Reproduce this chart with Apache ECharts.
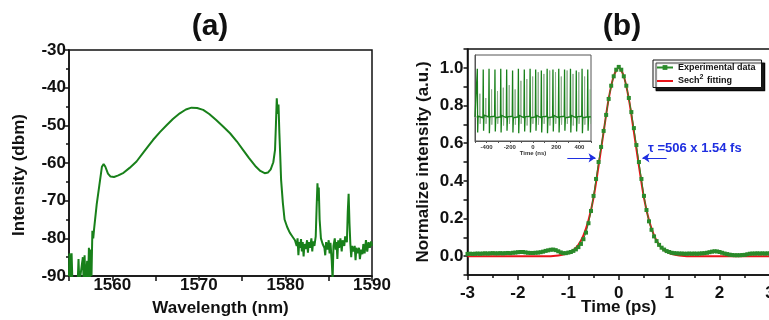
<!DOCTYPE html>
<html><head><meta charset="utf-8">
<script src="https://cdn.jsdelivr.net/npm/echarts@6/dist/echarts.min.js"></script>
<style>html,body{margin:0;padding:0;background:#fff}#c{width:769px;height:320px}</style>
</head><body><div id="c"></div>
<script>
const FONT = '"Liberation Sans", Arial, sans-serif';

// (a) optical spectrum
const specWl = [1555.0,1555.05,1555.15,1555.3,1555.4,1555.6,1556.0,1556.1,1556.2,1556.4,1556.6,1556.7,1556.8,1556.9,1557.1,1557.2,1557.3,1557.4,1557.5,1557.6,1557.7,1557.8,1557.9,1558.2,1558.5,1558.8,1559.0,1559.2,1559.5,1559.8,1560.2,1560.7,1561.3,1562.0,1562.8,1563.6,1564.2,1564.7,1565.5,1566.3,1567.0,1567.8,1568.5,1569.15,1569.8,1570.5,1571.2,1572.0,1572.8,1573.6,1574.4,1575.1,1575.8,1576.6,1577.1,1577.6,1578.0,1578.3,1578.6,1578.8,1578.9,1579.0,1579.1,1579.2,1579.3,1579.4,1579.5,1579.7,1579.9,1580.2,1580.5,1580.8,1581.1,1581.3,1581.4,1581.5,1581.6,1581.7,1581.8,1581.9,1582.0,1582.1,1582.2,1582.35,1582.5,1582.6,1582.7,1582.85,1583.0,1583.1,1583.2,1583.35,1583.5,1583.6,1583.7,1583.8,1583.85,1583.95,1584.1,1584.3,1584.5,1584.6,1584.7,1584.85,1585.0,1585.1,1585.2,1585.35,1585.45,1585.55,1585.7,1585.8,1585.9,1586.0,1586.1,1586.2,1586.35,1586.5,1586.6,1586.8,1586.9,1587.1,1587.2,1587.3,1587.4,1587.5,1587.6,1587.7,1587.85,1588.0,1588.1,1588.2,1588.35,1588.5,1588.6,1588.75,1588.9,1589.0,1589.15,1589.3,1589.45,1589.6,1589.75,1589.9,1590.0];
const specDbm = [-90,-84,-92,-84,-92,-92,-92,-85.5,-92,-92,-85,-92,-84.5,-92,-86,-92,-82.5,-92,-83,-90,-78,-80,-77.5,-71,-66,-61,-60.3,-61,-62.8,-63.6,-63.7,-63.3,-62.6,-61.3,-59.6,-57.2,-55.4,-53.9,-51.8,-49.9,-48.3,-46.8,-45.8,-45.3,-45.4,-45.9,-47.0,-48.6,-50.3,-52.1,-54.3,-56.5,-58.7,-61.0,-62.1,-62.7,-62.5,-61.7,-59.8,-56.5,-50,-42.8,-47,-44.5,-52,-58,-64.5,-70.5,-75,-77,-78.5,-79.5,-80.5,-82,-80,-84.5,-81,-82.5,-80.2,-83.5,-81,-84.8,-81.5,-82.8,-80.5,-83.8,-81,-82.5,-80,-83.5,-80.8,-82,-79.5,-72,-65.4,-70,-66.5,-75,-80,-81.5,-82.5,-84.5,-81,-83,-80.5,-84,-81.2,-86,-91,-82,-80,-83,-81,-85.5,-80.5,-82.5,-80,-83.5,-80.5,-82,-79.5,-81,-73,-68.2,-76,-81.5,-85,-82,-83.5,-82,-85.8,-82.5,-84,-82.5,-85.5,-83,-84.2,-81.5,-84,-80.5,-83.5,-81,-82.5,-80.8,-82];

// (b) autocorrelation trace, sampled every 0.05 ps from -3 ps
const expStart = -3, expStep = 0.05;
const expVals = [0.012,0.013,0.012,0.013,0.014,0.013,0.014,0.015,0.014,0.015,0.016,0.015,0.015,0.016,0.015,0.016,0.017,0.016,0.018,0.019,0.021,0.022,0.022,0.020,0.018,0.017,0.017,0.018,0.019,0.021,0.024,0.028,0.031,0.034,0.035,0.032,0.026,0.020,0.016,0.016,0.019,0.022,0.028,0.036,0.048,0.065,0.09,0.125,0.175,0.24,0.32,0.41,0.50,0.58,0.665,0.75,0.835,0.905,0.955,0.99,1.005,0.99,0.955,0.905,0.84,0.765,0.68,0.59,0.50,0.41,0.32,0.245,0.185,0.14,0.105,0.08,0.06,0.045,0.035,0.027,0.022,0.018,0.016,0.015,0.014,0.014,0.013,0.013,0.014,0.013,0.014,0.013,0.014,0.015,0.016,0.018,0.021,0.024,0.026,0.025,0.022,0.018,0.014,0.011,0.008,0.006,0.005,0.005,0.005,0.006,0.007,0.010,0.013,0.014,0.014,0.015,0.014,0.015,0.014,0.015,0.014];
const fitT = [-3,-2.9,-2.8,-2.7,-2.6,-2.5,-2.4,-2.3,-2.2,-2.1,-2,-1.9,-1.8,-1.7,-1.6,-1.5,-1.4,-1.3,-1.2,-1.1,-1,-0.9,-0.8,-0.7,-0.6,-0.5,-0.4,-0.3,-0.2,-0.1,0,0.1,0.2,0.3,0.4,0.5,0.6,0.7,0.8,0.9,1,1.1,1.2,1.3,1.4,1.5,1.6,1.7,1.8,1.9,2,2.1,2.2,2.3,2.4,2.5,2.6,2.7,2.8,2.9,3];
const fitVals = [0,0,0,0,0,0,0,0,0,0,0,0,0,0,0,0,0,0.001,0.004,0.009,0.017,0.032,0.06,0.11,0.19,0.31,0.48,0.66,0.835,0.955,1.0,0.955,0.835,0.66,0.48,0.31,0.19,0.11,0.06,0.032,0.017,0.009,0.004,0.001,0,0,0,0,0,0,0,0,0,0,0,0,0,0,0,0,0];

// inset pulse train (time in ns, relative amplitude)
const insetMain = [[-500,0.28],[-483,0.28],[-480,0.84],[-477,0.10],[-473,0.29],[-432,0.27],[-429,0.83],[-426,0.12],[-422,0.30],[-382,0.28],[-379,0.84],[-376,0.09],[-372,0.28],[-331,0.29],[-328,0.83],[-325,0.11],[-321,0.27],[-281,0.28],[-278,0.84],[-275,0.10],[-271,0.30],[-230,0.27],[-227,0.83],[-224,0.12],[-220,0.28],[-179,0.29],[-176,0.82],[-173,0.10],[-169,0.27],[-129,0.28],[-126,0.84],[-123,0.09],[-119,0.30],[-78,0.27],[-75,0.83],[-72,0.11],[-68,0.28],[-28,0.29],[-25,0.84],[-22,0.10],[-18,0.27],[20,0.28],[23,0.83],[26,0.12],[30,0.30],[69,0.27],[72,0.82],[75,0.10],[79,0.28],[119,0.29],[122,0.84],[125,0.09],[129,0.27],[169,0.28],[172,0.83],[175,0.11],[179,0.30],[219,0.27],[222,0.84],[225,0.10],[229,0.28],[269,0.29],[272,0.83],[275,0.12],[279,0.27],[320,0.28],[323,0.84],[326,0.10],[330,0.30],[370,0.27],[373,0.82],[376,0.11],[380,0.28],[420,0.29],[423,0.84],[426,0.09],[430,0.27],[469,0.28],[472,0.83],[475,0.12],[479,0.28],[500,0.28]];
const insetGhost = [[-500,0.28],[-460,0.28],[-458,0.55],[-456,0.2],[-453,0.28],[-409,0.28],[-407,0.5],[-405,0.2],[-402,0.28],[-359,0.28],[-357,0.6],[-355,0.19],[-352,0.28],[-308,0.28],[-306,0.58],[-304,0.2],[-301,0.28],[-258,0.28],[-256,0.62],[-254,0.18],[-251,0.28],[-207,0.28],[-205,0.65],[-203,0.2],[-200,0.28],[-156,0.28],[-154,0.6],[-152,0.19],[-149,0.28],[-106,0.28],[-104,0.7],[-102,0.2],[-99,0.28],[-55,0.28],[-53,0.72],[-51,0.18],[-48,0.28],[-5,0.28],[-3,0.75],[-1,0.2],[2,0.28],[43,0.28],[45,0.8],[47,0.19],[50,0.28],[92,0.28],[94,0.78],[96,0.2],[99,0.28],[142,0.28],[144,0.82],[146,0.18],[149,0.28],[192,0.28],[194,0.8],[196,0.2],[199,0.28],[242,0.28],[244,0.75],[246,0.19],[249,0.28],[292,0.28],[294,0.82],[296,0.2],[299,0.28],[343,0.28],[345,0.78],[347,0.18],[350,0.28],[393,0.28],[395,0.8],[397,0.2],[400,0.28],[443,0.28],[445,0.75],[447,0.19],[450,0.28],[492,0.28],[494,0.6],[496,0.2],[499,0.28]];

const expData = expVals.map((v, i) => [+(expStart + i * expStep).toFixed(2), v]);
const fitData = fitT.map((t, i) => [t, fitVals[i]]);
const specData = specWl.map((w, i) => [w, specDbm[i]]);

const GREEN = '#18801a';
const lbl = (size, extra) => Object.assign({color: '#111', fontFamily: FONT, fontWeight: 'bold', fontSize: size}, extra || {});

const chart = echarts.init(document.getElementById('c'), null, {renderer: 'canvas'});
chart.setOption({
  animation: false,
  backgroundColor: '#fff',
  grid: [
    {left: 69, top: 50, width: 303, height: 226, show: true, borderColor: '#111', borderWidth: 1.5, backgroundColor: 'transparent', containLabel: false, outerBoundsMode: 'none'},
    {left: 467.5, top: 49, width: 302.5, height: 226, show: true, borderColor: '#111', borderWidth: 1.5, backgroundColor: 'transparent', containLabel: false, outerBoundsMode: 'none'},
    {left: 475, top: 55, width: 116, height: 86, show: true, borderColor: '#555', borderWidth: 1, backgroundColor: '#fff', z: 5, containLabel: false, outerBoundsMode: 'none'}
  ],
  xAxis: [
    {gridIndex: 0, type: 'value', min: 1555, max: 1590, interval: 5,
     axisLine: {lineStyle: {color: '#111', width: 1.5}},
     axisTick: {show: true, inside: false, length: 5, lineStyle: {color: '#111', width: 1.5}},
     minorTick: {show: false}, splitLine: {show: false},
     axisLabel: lbl(17, {margin: 1, formatter: v => (Math.round(v) % 10 === 0 ? String(Math.round(v)) : '')}),
     name: 'Wavelength (nm)', nameLocation: 'middle', nameGap: 24, nameMoveOverlap: false, nameTextStyle: lbl(17)},
    {gridIndex: 1, type: 'value', min: -3, max: 3, interval: 1,
     axisLine: {onZero: false, lineStyle: {color: '#111', width: 1.5}},
     axisTick: {show: true, inside: false, length: 5, lineStyle: {color: '#111', width: 1.5}},
     minorTick: {show: true, splitNumber: 2, length: 3, lineStyle: {color: '#111', width: 1.5}},
     splitLine: {show: false},
     axisLabel: lbl(17, {margin: 10, showMaxLabel: true}),
     name: 'Time (ps)', nameLocation: 'middle', nameGap: 24, nameMoveOverlap: false, nameTextStyle: lbl(17)},
    {gridIndex: 2, type: 'value', min: -500, max: 500, interval: 100,
     axisLine: {onZero: false, lineStyle: {color: '#555', width: 1}},
     axisTick: {show: true, length: 2, lineStyle: {color: '#555'}},
     splitLine: {show: false},
     axisLabel: lbl(6, {margin: 3, color: '#333', formatter: v => (Math.round(v) % 200 === 0 && Math.abs(v) < 500 ? String(Math.round(v)) : '')}),
     name: 'Time (ns)', nameLocation: 'middle', nameGap: 9, nameMoveOverlap: false, nameTextStyle: lbl(6, {color: '#333'}), z: 6}
  ],
  yAxis: [
    {gridIndex: 0, type: 'value', min: -90, max: -30, interval: 10,
     axisLine: {show: true, onZero: false, lineStyle: {color: '#111', width: 1.5}},
     axisTick: {show: true, inside: false, length: 5, lineStyle: {color: '#111', width: 1.5}},
     minorTick: {show: true, splitNumber: 2, length: 3, lineStyle: {color: '#111', width: 1.5}},
     splitLine: {show: false},
     axisLabel: lbl(17, {margin: 3})},
    {gridIndex: 1, type: 'value', min: -0.1, max: 1.1, interval: 0.1,
     axisLine: {show: true, onZero: false, lineStyle: {color: '#111', width: 1.5}},
     axisTick: {show: true, inside: false, length: 4, lineStyle: {color: '#111', width: 1.5}},
     splitLine: {show: false},
     axisLabel: lbl(17, {margin: 4, formatter: v => { const k = Math.round(v * 10); return (k % 2 === 0 && k >= 0 && k <= 10) ? (k / 10).toFixed(1) : ''; }})},
    {gridIndex: 2, type: 'value', min: 0, max: 1,
     axisLine: {show: true, onZero: false, lineStyle: {color: '#555', width: 1}},
     axisTick: {show: false}, axisLabel: {show: false}, splitLine: {show: false}, z: 6}
  ],
  legend: {
    data: [{name: 'Experimental data'}, {name: 'Sech2 fitting', icon: 'path://M0 0H16V2H0Z'}],
    orient: 'vertical', left: 653, top: 60,
    padding: [3, 6, 2, 3], itemGap: 2, itemWidth: 16, itemHeight: 6,
    backgroundColor: '#fff', borderColor: '#111', borderWidth: 1,
    shadowColor: 'rgba(0,0,0,0.9)', shadowBlur: 1, shadowOffsetX: 3, shadowOffsetY: 3,
    selectedMode: false,
    formatter: n => n === 'Sech2 fitting' ? '{b|Sech}{s|2}{b| fitting}' : '{b|' + n + '}',
    textStyle: {color: '#111', fontFamily: FONT, fontWeight: 'bold', fontSize: 9,
      rich: {b: {fontFamily: FONT, fontWeight: 'bold', fontSize: 9, color: '#111'},
             s: {fontFamily: FONT, fontWeight: 'bold', fontSize: 7, color: '#111', padding: [0, 1, 7, 0]}}}
  },
  series: [
    {type: 'line', xAxisIndex: 0, yAxisIndex: 0, data: specData, showSymbol: false, symbol: 'none',
     lineStyle: {color: GREEN, width: 2}, clip: true, silent: true},
    {name: 'Sech2 fitting', type: 'line', xAxisIndex: 1, yAxisIndex: 1, data: fitData, symbol: 'none', smooth: 0.3,
     lineStyle: {color: '#e8141a', width: 2}, itemStyle: {color: '#e8141a'}, z: 2, silent: true},
    {name: 'Experimental data', type: 'line', xAxisIndex: 1, yAxisIndex: 1, data: expData, symbol: 'rect', symbolSize: 4,
     showSymbol: true, showAllSymbol: true, lineStyle: {color: '#2a8a2a', width: 1}, itemStyle: {color: '#2a8a2a'}, z: 3, silent: true,
     markLine: {silent: true, symbol: ['none', 'arrow'], symbolSize: 7, label: {show: false},
       lineStyle: {color: '#1f2fe0', width: 1, type: 'solid'},
       data: [[{coord: [-1.02, 0.522]}, {coord: [-0.46, 0.522]}], [{coord: [0.95, 0.522]}, {coord: [0.47, 0.522]}]]}},
    {type: 'line', xAxisIndex: 2, yAxisIndex: 2, data: insetGhost, symbol: 'none', lineStyle: {color: '#8fae8f', width: 1}, z: 6, silent: true},
    {type: 'line', xAxisIndex: 2, yAxisIndex: 2, data: insetMain, symbol: 'none', lineStyle: {color: GREEN, width: 1.3}, z: 7, silent: true}
  ],
  graphic: [
    {type: 'text', x: 210, y: 27, style: {text: '(a)', align: 'center', verticalAlign: 'middle', font: 'bold 30px ' + FONT, fill: '#111'}},
    {type: 'text', x: 622, y: 27, style: {text: '(b)', align: 'center', verticalAlign: 'middle', font: 'bold 30px ' + FONT, fill: '#111'}},
    {type: 'text', x: 19, y: 175, rotation: Math.PI / 2, style: {text: 'Intensity (dbm)', align: 'center', verticalAlign: 'middle', font: 'bold 17px ' + FONT, fill: '#111'}},
    {type: 'text', x: 423, y: 162, rotation: Math.PI / 2, style: {text: 'Normalize intensity (a.u.)', align: 'center', verticalAlign: 'middle', font: 'bold 17px ' + FONT, fill: '#111'}},
    {type: 'text', x: 648, y: 148, style: {text: 'τ =506 x 1.54 fs', align: 'left', verticalAlign: 'middle', font: 'bold 13px ' + FONT, fill: '#1f2fe0'}}
  ]
});
</script></body></html>
